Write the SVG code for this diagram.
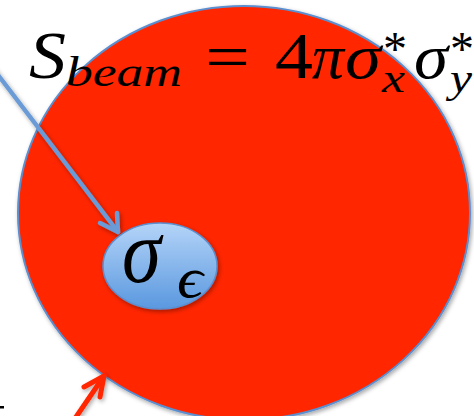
<svg xmlns="http://www.w3.org/2000/svg" width="474" height="416" viewBox="0 0 474 416">
<defs>
<filter id="sh" x="-20%" y="-20%" width="140%" height="140%">
<feDropShadow dx="1.5" dy="2" stdDeviation="2" flood-color="#000" flood-opacity="0.35"/>
</filter>
<linearGradient id="bl" x1="0" y1="0" x2="0" y2="1">
<stop offset="0" stop-color="#b4d4f8"/>
<stop offset="1" stop-color="#5a98df"/>
</linearGradient>
<style>
.arr{fill:none;stroke-linecap:round;stroke-linejoin:round}
</style>
</defs>
<g id="beam">
<ellipse cx="244" cy="213" rx="226" ry="207" fill="#ff2600" stroke="#5b8fd0" stroke-width="2" filter="url(#sh)"/>
</g>
<g id="formula" style="font-family:'Liberation Serif',serif;font-style:italic" fill="#000">
<text x="29" y="78" font-size="68" textLength="37" lengthAdjust="spacingAndGlyphs">S</text>
<text x="66" y="86" font-size="42" textLength="116" lengthAdjust="spacingAndGlyphs">beam</text>
<text x="205" y="78" font-size="64" style="font-style:normal" textLength="45" lengthAdjust="spacingAndGlyphs">=</text>
<text x="275" y="78" font-size="66" style="font-style:normal" textLength="38" lengthAdjust="spacingAndGlyphs">4</text>
<text x="312" y="78" font-size="64" textLength="32" lengthAdjust="spacingAndGlyphs">π</text>
<text x="345" y="78" font-size="64" textLength="36" lengthAdjust="spacingAndGlyphs">σ</text>
<text x="395" y="65" font-size="48" style="font-style:normal" text-anchor="middle">*</text>
<text x="382" y="92" font-size="40" textLength="23" lengthAdjust="spacingAndGlyphs">x</text>
<text x="414" y="78" font-size="64" textLength="34" lengthAdjust="spacingAndGlyphs">σ</text>
<text x="462" y="65" font-size="48" style="font-style:normal" text-anchor="middle">*</text>
<text x="450" y="92" font-size="40" textLength="22" lengthAdjust="spacingAndGlyphs">y</text>
</g>
<g id="connectors">
<g filter="url(#sh)">
<path class="arr" d="M-5 71 L118 232" stroke="#6a9bd6" stroke-width="4.5"/>
<path class="arr" d="M100 223 L118 232 L117 213" stroke="#6a9bd6" stroke-width="4.5"/>
<path class="arr" d="M74 420 L104 376" stroke="#ff2600" stroke-width="5"/>
<path class="arr" d="M84 387 L104 376 L100 397" stroke="#ff2600" stroke-width="5"/>
</g>
</g>
<g id="sigma-eps">
<ellipse cx="160" cy="266" rx="57" ry="43" fill="url(#bl)" stroke="#5b8fd0" stroke-width="1.5" filter="url(#sh)"/>
<text x="122" y="282" font-size="90" textLength="39" lengthAdjust="spacingAndGlyphs" style="font-family:'Liberation Serif',serif;font-style:italic">σ</text>
<text x="177" y="297" font-size="56" textLength="26" lengthAdjust="spacingAndGlyphs" style="font-family:'Liberation Serif',serif;font-style:italic">ϵ</text>
</g>
<rect x="0" y="406" width="4" height="2.5" fill="#000"/>
</svg>
